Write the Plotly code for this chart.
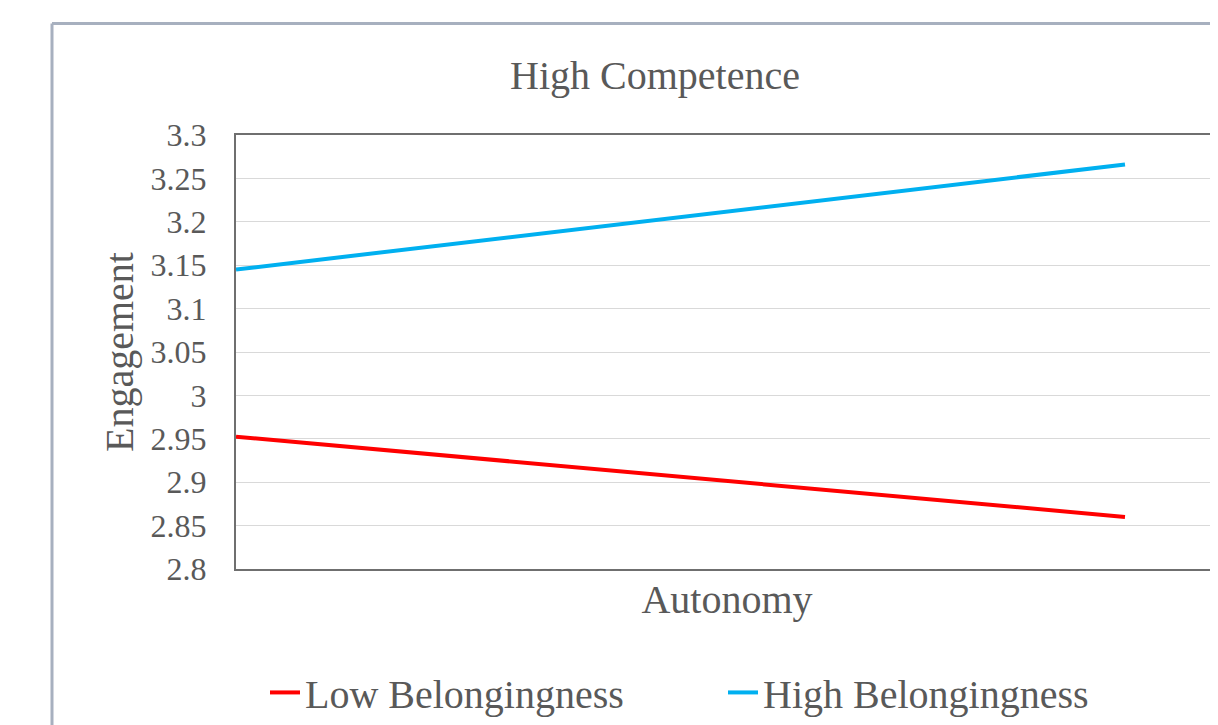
import plotly.graph_objects as go

# Data
autonomy = [-1, 1]                      # Low / High autonomy
low_belong = [2.9525, 2.860]
high_belong = [3.145, 3.266]
series_names = ["Low Belongingness", "High Belongingness"]
series_colors = ["#ff0000", "#00b0f0"]
y_tickvals = [2.8, 2.85, 2.9, 2.95, 3.0, 3.05, 3.1, 3.15, 3.2, 3.25, 3.3]
y_ticktext = ["2.8", "2.85", "2.9", "2.95", "3", "3.05", "3.1", "3.15", "3.2", "3.25", "3.3"]

FONT = "Liberation Serif, Times New Roman, serif"
GRAY = "#595959"

OFF = 8  # page body margin
W, H = 1218 - OFF, 725 - OFF
L, R, T = 236 - OFF, 0, 135 - OFF
ph = 436
B = H - T - ph
pw = W - L - R

fig = go.Figure()
for name, vals, col in zip(series_names, [low_belong, high_belong], series_colors):
    fig.add_trace(go.Scatter(x=autonomy, y=vals, mode="lines", name=name,
                             line=dict(color=col, width=4)))

# x range: left point at plot's left edge, right point ~889px from it
x_span = (autonomy[1] - autonomy[0]) * pw / 889.0
fig.update_xaxes(range=[autonomy[0], autonomy[0] + x_span], showgrid=False, zeroline=False,
                 showticklabels=False, ticks="", showline=True, mirror=True,
                 linecolor="#6f6f6f", linewidth=2,
                 title=dict(text="Autonomy", font=dict(family=FONT, size=40, color=GRAY), standoff=15))
fig.update_yaxes(range=[2.8, 3.3], tickvals=y_tickvals, ticktext=y_ticktext,
                 showgrid=True, gridcolor="#d9d9d9", gridwidth=1, zeroline=False,
                 showline=True, mirror=False, linecolor="#6f6f6f", linewidth=2,
                 ticks="", ticklabelstandoff=21,
                 tickfont=dict(family=FONT, size=32, color=GRAY),
                 title=dict(text="Engagement", font=dict(family=FONT, size=40, color=GRAY), standoff=5))

# outer chart border (left and top edges visible in the crop)
bx = (52 - OFF - L) / pw
by = (H - (23 - OFF) - B) / ph
border = dict(color="#a7b0bf", width=3)
fig.add_shape(type="line", xref="paper", yref="paper", x0=bx, y0=by, x1=bx, y1=-1.0, line=border)
fig.add_shape(type="line", xref="paper", yref="paper", x0=bx, y0=by, x1=1.5, y1=by, line=border)

fig.update_layout(
    width=W, height=H,
    margin=dict(l=L, r=R, t=T, b=B),
    paper_bgcolor="white", plot_bgcolor="white",
    title=dict(text="High Competence", x=(655 - OFF) / W, xref="container", xanchor="center",
               y=1 - (75 - OFF) / H, yref="container", yanchor="middle",
               font=dict(family=FONT, size=40, color=GRAY)),
    legend=dict(orientation="h", x=(257 - L) / pw, xanchor="left",
                y=(H - (695 - OFF) - B) / ph, yanchor="middle",
                font=dict(family=FONT, size=40, color=GRAY),
                entrywidth=413, entrywidthmode="pixels", bgcolor="rgba(0,0,0,0)"),
    showlegend=True,
)

fig.write_html("out.html")
